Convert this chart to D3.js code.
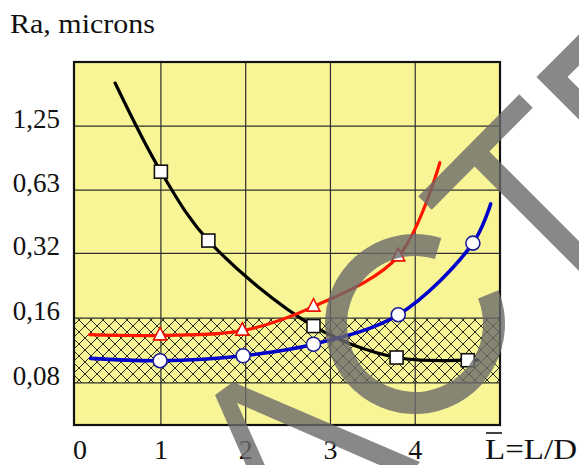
<!DOCTYPE html>
<html><head><meta charset="utf-8">
<script src="https://cdn.jsdelivr.net/npm/d3@7"></script>
<style>html,body{margin:0;padding:0;background:#fff}</style>
</head><body>
<script>
// ---- data ----
const xTicks = [0, 1, 2, 3, 4];
const xTickLabels = ["0", "1", "2", "3", "4"];
const yTicks = [0.08, 0.16, 0.32, 0.63, 1.25];
const yTickLabels = ["0,08", "0,16", "0,32", "0,63", "1,25"];
const yTitle = "Ra, microns";
const xTitleBar = "L";
const xTitleRest = "=L/D";
const bandLow = 0.08, bandHigh = 0.16;

// series: first and last points are curve ends (no marker)
const blackX = [0.46, 1.00, 1.56, 2.80, 3.78, 4.62, 4.74];
const blackY = [1.98, 0.767, 0.367, 0.147, 0.105, 0.102, 0.102];
const redX = [0.16, 0.99, 1.96, 2.80, 3.80, 4.29];
const redY = [0.134, 0.133, 0.140, 0.181, 0.310, 0.844];
const blueX = [0.17, 0.99, 1.97, 2.80, 3.80, 4.68, 4.89];
const blueY = [0.104, 0.1015, 0.107, 0.121, 0.166, 0.357, 0.543];

// ---- drawing ----
const W = 579, H = 465;
const svg = d3.select("body").append("svg").attr("width", W).attr("height", H);
const setFont = sel => sel.style("font-family", d => `"Liberation Serif", monospace`);

const x = d3.scaleLinear().domain([-0.025, 5]).range([74, 500]);
const y = d3.scaleLog().domain([0.051, 2.48]).range([425, 62]);
const [x0, x1] = x.range();
const [yb, yt] = y.range();

const defs = svg.append("defs");
const pat = defs.append("pattern").attr("id", "hatch")
  .attr("patternUnits", "userSpaceOnUse").attr("width", 12).attr("height", 12)
  .attr("x", 1).attr("y", 2);
pat.append("path").attr("d", "M0,0L12,12M12,0L0,12")
  .attr("stroke", "#2b2b1c").attr("stroke-width", 1).attr("fill", "none");

// plot background
svg.append("rect").attr("x", x0).attr("y", yt).attr("width", x1 - x0).attr("height", yb - yt)
  .attr("fill", "#f8f596");
// hatched band
svg.append("rect").attr("x", x0).attr("y", y(bandHigh)).attr("width", x1 - x0)
  .attr("height", y(bandLow) - y(bandHigh)).attr("fill", "url(#hatch)");

// grid
const grid = svg.append("g").attr("stroke", "#2e2e2e").attr("stroke-width", 1.2);
grid.selectAll("line.v").data(xTicks.filter(d => d > 0)).join("line")
  .attr("x1", d => x(d)).attr("x2", d => x(d)).attr("y1", yt).attr("y2", yb);
grid.selectAll("line.h").data(yTicks).join("line")
  .attr("y1", d => y(d)).attr("y2", d => y(d)).attr("x1", x0).attr("x2", x1);

// curves
const line = d3.line().x(d => x(d[0])).y(d => y(d[1])).curve(d3.curveCatmullRom.alpha(0.5));
const series = [
  {xs: blackX, ys: blackY, color: "#000000", w: 3.2, mk: "square"},
  {xs: redX, ys: redY, color: "#ff1500", w: 3.2, mk: "triangle"},
  {xs: blueX, ys: blueY, color: "#0000cc", w: 3.6, mk: "circle"}
];
series.forEach(s => {
  const pts = s.xs.map((v, i) => [v, s.ys[i]]);
  svg.append("path").attr("d", line(pts)).attr("fill", "none")
    .attr("stroke", s.color).attr("stroke-width", s.w).attr("stroke-linecap", "round");
});
series.forEach(s => {
  const pts = s.xs.map((v, i) => [v, s.ys[i]]).slice(1, -1);
  const g = svg.append("g");
  if (s.mk === "square") {
    g.selectAll("rect").data(pts).join("rect")
      .attr("x", d => x(d[0]) - 6.5).attr("y", d => y(d[1]) - 6.5)
      .attr("width", 13).attr("height", 13)
      .attr("fill", "#fff").attr("stroke", "#111").attr("stroke-width", 1.6);
  } else if (s.mk === "triangle") {
    g.selectAll("path").data(pts).join("path")
      .attr("d", d => `M${x(d[0])},${y(d[1]) - 8}L${x(d[0]) + 6.5},${y(d[1]) + 4.5}L${x(d[0]) - 6.5},${y(d[1]) + 4.5}Z`)
      .attr("fill", "#fff").attr("stroke", "#ee1100").attr("stroke-width", 1.6);
  } else {
    g.selectAll("circle").data(pts).join("circle")
      .attr("cx", d => x(d[0])).attr("cy", d => y(d[1])).attr("r", 7)
      .attr("fill", "#fff").attr("stroke", "#1c1c9a").attr("stroke-width", 1.6);
  }
});

// border
svg.append("rect").attr("x", x0).attr("y", yt).attr("width", x1 - x0).attr("height", yb - yt)
  .attr("fill", "none").attr("stroke", "#111").attr("stroke-width", 2.2);

// y tick labels
svg.append("g").selectAll("text").data(yTicks).join("text")
  .attr("x", 60).attr("y", d => y(d) + 2).attr("text-anchor", "end")
  .attr("font-size", 27).attr("fill", "#111")
  .call(setFont)
  .text((d, i) => yTickLabels[i]);
// x tick labels
svg.append("g").selectAll("text").data(xTicks).join("text")
  .attr("x", d => x(d) + (d === 0 ? 4 : 0)).attr("y", 459).attr("text-anchor", "middle")
  .attr("font-size", 28).attr("fill", "#111")
  .call(setFont)
  .text((d, i) => xTickLabels[i]);
// y title
svg.append("text").attr("x", 10).attr("y", 33)
  .attr("font-size", 28).attr("fill", "#111")
  .call(setFont)
  .attr("textLength", 145).attr("lengthAdjust", "spacingAndGlyphs").text(yTitle);
// x title with overline on the first L
const xt = svg.append("text").attr("x", 485).attr("y", 459)
  .attr("font-size", 29).attr("fill", "#111")
  .call(setFont)
  .attr("textLength", 92).attr("lengthAdjust", "spacingAndGlyphs");
xt.append("tspan").text(xTitleBar);
xt.append("tspan").text(xTitleRest);
svg.append("line").attr("x1", 486).attr("x2", 502).attr("y1", 433).attr("y2", 433)
  .attr("stroke", "#111").attr("stroke-width", 1.6);

// watermark overlay
const wm = svg.append("g").attr("opacity", 0.8).attr("fill", "#6b6b6b").attr("stroke", "#6b6b6b");
wm.append("path").attr("stroke", "none")
  .attr("d", "M249,472L215,395L233,382L420,462L405,480L400,474L237,403L268,472Z");
wm.append("path").attr("stroke", "none").attr("transform", "translate(415,324)")
  .attr("d", d3.arc()({innerRadius: 68, outerRadius: 90,
    startAngle: 68 * Math.PI / 180, endAngle: 377 * Math.PI / 180}));
wm.append("path").attr("fill", "none").attr("stroke-width", 19)
  .attr("d", "M425,203L526,101");
wm.append("path").attr("fill", "none").attr("stroke-width", 21)
  .attr("d", "M475,152L610,287");
wm.append("path").attr("fill", "none").attr("stroke-width", 22).attr("stroke-linejoin", "miter")
  .attr("d", "M610,19L552,77L610,135");
</script>
</body></html>
